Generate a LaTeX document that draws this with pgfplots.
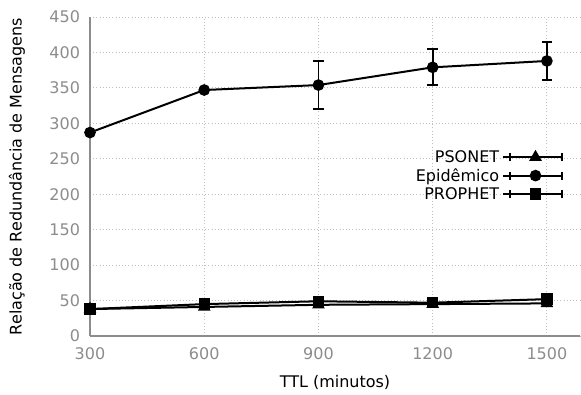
\documentclass[border=0pt]{standalone}
\usepackage{fontspec}
\setmainfont{DejaVu Sans}
\usepackage{pgfplots}
\pgfplotsset{compat=1.18}
\definecolor{tickgray}{HTML}{8C8C8C}
\definecolor{axgray}{HTML}{8C8C8C}
\begin{document}
\begin{tikzpicture}[font=\fontsize{12}{14.4}\selectfont]
\path[use as bounding box] (-67.5pt,-43.5pt) rectangle (368.25pt,252pt);
\begin{axis}[
  scale only axis,
  width=367.5pt, height=239.25pt,
  xmin=300, xmax=1587, ymin=0, ymax=450,
  xtick={300,600,900,1200,1500},
  ytick={0,50,...,450},
  axis x line*=bottom, axis y line*=left,
  axis line style={-, axgray, line width=0.8pt},
  major tick length=0pt,
  grid=major,
  major grid style={dotted, gray!50, line width=0.7pt},
  tick label style={tickgray, font=\fontsize{12}{14.4}\selectfont},
  /pgf/number format/assume math mode=true,
  /pgf/number format/1000 sep={},
  yticklabel style={xshift=-4pt},
  xticklabel style={yshift=-5pt},
  every axis y label/.style={at={(axis description cs:-0.149,0.5)}, rotate=90, anchor=center},
  every axis x label/.style={at={(axis description cs:0.5,-0.147)}, anchor=center},
  xlabel={TTL (minutos)},
  ylabel={Relação de Redundância de Mensagens},
  legend plot pos=right,
  legend cell align=right,
  legend style={draw=none, fill=none, at={(rel axis cs:0.973,0.60)}, anchor=north east,
    row sep=-0.9pt, font=\fontsize{12}{14.4}\selectfont},
  legend image code/.code={
    \path (0pt,0pt) -- (5pt,0pt);
    \draw[#1, mark=none] (5pt,0pt) -- (44pt,0pt);
    \draw[#1, mark=none] (5pt,-3pt) -- (5pt,3pt) (44pt,-3pt) -- (44pt,3pt);
    \draw[#1] plot coordinates {(24.5pt,0pt)};
  },
  error bars/error bar style={line width=1.4pt, black},
  error bars/error mark options={rotate=90, mark size=4pt, line width=1.4pt, black},
]
\addplot[black, line width=1.5pt, mark=triangle*, mark size=4pt,
  error bars/.cd, y dir=both, y explicit]
  coordinates {(300,38) +- (0,0) (600,41) +- (0,0) (900,44) +- (0,0) (1200,45) +- (0,0) (1500,46) +- (0,0)};
\addlegendentry{PSONET}
\addplot[black, line width=1.5pt, mark=*, mark size=3.6pt,
  error bars/.cd, y dir=both, y explicit]
  coordinates {(300,287) +- (0,0) (600,347) +- (0,0) (900,354) +- (0,34) (1200,379) +- (0,25.5) (1500,388) +- (0,27)};
\addlegendentry{Epidêmico}
\addplot[black, line width=1.5pt, mark=square*, mark size=3.5pt,
  error bars/.cd, y dir=both, y explicit]
  coordinates {(300,38) +- (0,0) (600,45) +- (0,0) (900,49) +- (0,0) (1200,47) +- (0,0) (1500,52) +- (0,0)};
\addlegendentry{PROPHET}
\end{axis}
\end{tikzpicture}
\end{document}
